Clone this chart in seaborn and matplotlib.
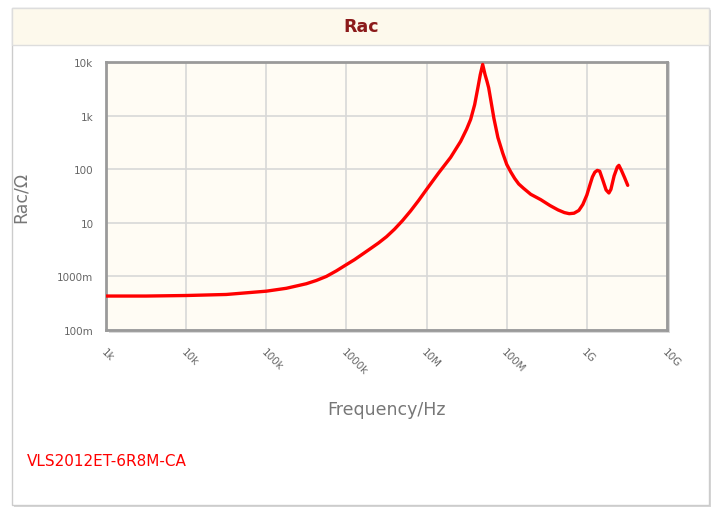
import numpy as np
import pandas as pd
import matplotlib
matplotlib.use("Agg")
import matplotlib.pyplot as plt
from matplotlib.patches import Rectangle
import seaborn as sns

# ---- data ----
log_freq = [3.0, 3.5, 4.0, 4.5, 5.0, 5.25, 5.5, 5.625, 5.75, 5.875, 6.0, 6.1,
            6.2, 6.3, 6.4, 6.5, 6.6, 6.7, 6.8, 6.9, 7.0, 7.15, 7.3, 7.425,
            7.5, 7.55, 7.6, 7.64, 7.67, 7.7, 7.73, 7.755, 7.775, 7.8, 7.84,
            7.89, 7.95, 8.0, 8.05, 8.1, 8.15, 8.21, 8.3, 8.425, 8.54, 8.64,
            8.72, 8.78, 8.84, 8.9, 8.95, 9.0, 9.04, 9.07, 9.1, 9.13, 9.16,
            9.2, 9.24, 9.275, 9.3, 9.34, 9.38, 9.4, 9.43, 9.47, 9.51]
rac = [0.43, 0.43, 0.44, 0.46, 0.53, 0.60, 0.73, 0.84, 1.0, 1.27, 1.66, 2.05,
       2.6, 3.3, 4.2, 5.5, 7.6, 11, 16.6, 26, 42, 85, 166, 330,
       560, 850, 1600, 3300, 5800, 9000, 5800, 4300, 3300, 2000, 890,
       390, 200, 123, 89, 67, 53, 44, 34, 27, 21, 17.4,
       15.5, 14.8, 15.1, 17, 22, 33, 52, 72, 88, 95, 92,
       62, 41, 36, 42, 75, 110, 118, 96, 70, 50]
freq = [10 ** v for v in log_freq]

xtick_vals = [1e3, 1e4, 1e5, 1e6, 1e7, 1e8, 1e9, 1e10]
xtick_labels = ["1k", "10k", "100k", "1000k", "10M", "100M", "1G", "10G"]
ytick_vals = [0.1, 1, 10, 100, 1e3, 1e4]
ytick_labels = ["100m", "1000m", "10", "100", "1k", "10k"]

df = pd.DataFrame({"freq": freq, "rac": rac})

sns.set_theme(style="white")
plt.rcParams["font.family"] = ["DejaVu Sans"]

W, H = 715, 510
fig = plt.figure(figsize=(W / 100, H / 100), dpi=100)
fig.patch.set_facecolor("white")

def fx(px):
    return px / W

def fy(py):
    return 1 - py / H

# outer panel with shadow
fig.patches.append(Rectangle((fx(14), fy(508)), fx(697), (497) / H,
                             transform=fig.transFigure, facecolor="#d6d6d6",
                             edgecolor="none", zorder=-5))
fig.patches.append(Rectangle((fx(12), fy(506)), fx(697), (497) / H,
                             transform=fig.transFigure, facecolor="white",
                             edgecolor="#cccccc", linewidth=1, zorder=-4))
# header band
fig.patches.append(Rectangle((fx(12), fy(46)), fx(697), 37 / H,
                             transform=fig.transFigure, facecolor="#fdf9ec",
                             edgecolor="#dddddd", linewidth=1, zorder=-3))
fig.text(fx(361), fy(27), "Rac", ha="center", va="center", fontsize=12.5,
         fontweight="bold", color="#8b1a1a")

# plot-area shadow
fig.patches.append(Rectangle((fx(109), fy(334)), fx(561), 271 / H,
                             transform=fig.transFigure, facecolor="#d9d9d9",
                             edgecolor="none", zorder=-2))

ax = fig.add_axes([fx(106), fy(331), fx(561), 268 / H])
ax.set_zorder(2)
ax.set_facecolor("#fffcf4")

sns.lineplot(data=df, x="freq", y="rac", ax=ax, color="#ff0000",
             linewidth=2.4, legend=False, zorder=5)
for ln in ax.lines:
    ln.set_solid_joinstyle("round")
    ln.set_solid_capstyle("round")

ax.set_xscale("log")
ax.set_yscale("log")
ax.set_xlim(1e3, 1e10)
ax.set_ylim(0.1, 1e4)
ax.minorticks_off()
ax.set_xticks(xtick_vals)
ax.set_xticklabels(xtick_labels, rotation=-45, ha="left", va="top",
                   rotation_mode="anchor", fontsize=7.5, color="#666666")
ax.set_yticks(ytick_vals)
ax.set_yticklabels(ytick_labels, fontsize=7.5, color="#666666")
ax.tick_params(axis="both", which="major", length=5, width=1,
               color="#999999", direction="out", pad=4)
ax.tick_params(axis="x", pad=7)
ax.grid(True, which="major", color="#d8d8d8", linewidth=1.2)
for s in ax.spines.values():
    s.set_color("#9a9a9a")
    s.set_linewidth(2)

ax.set_xlabel("Frequency/Hz", fontsize=12.5, color="#777777", labelpad=17)
ax.set_ylabel("Rac/Ω", fontsize=12.5, color="#777777", labelpad=20)

fig.text(fx(27), fy(462), "VLS2012ET-6R8M-CA", ha="left", va="center",
         fontsize=11, color="#ff0000")

fig.savefig("out.png", dpi=100)
